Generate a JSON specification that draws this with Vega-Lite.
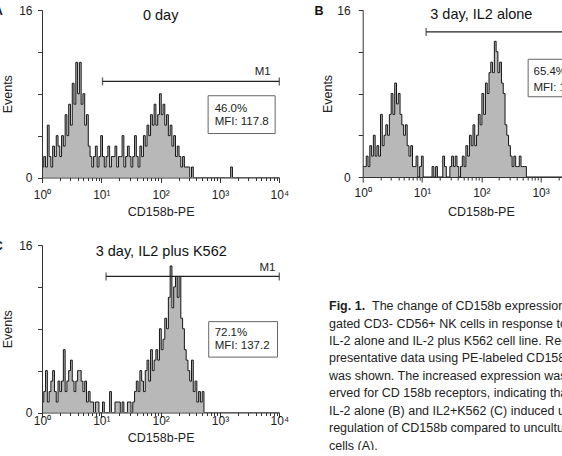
{
"$schema": "https://vega.github.io/schema/vega-lite/v6.json",
"padding": {"left": -7, "top": 4, "right": 0, "bottom": 0},
"datasets": {
"A": [{"x":0,"y":1},{"x":0.03,"y":2},{"x":0.06,"y":1},{"x":0.09,"y":5},{"x":0.12,"y":2},{"x":0.15,"y":1},{"x":0.18,"y":3},{"x":0.21,"y":2},{"x":0.24,"y":4},{"x":0.27,"y":3},{"x":0.30,"y":2},{"x":0.33,"y":4},{"x":0.36,"y":3},{"x":0.39,"y":6},{"x":0.42,"y":4},{"x":0.45,"y":7},{"x":0.48,"y":5},{"x":0.51,"y":9},{"x":0.54,"y":7},{"x":0.57,"y":11},{"x":0.60,"y":8},{"x":0.63,"y":11},{"x":0.66,"y":7},{"x":0.69,"y":8},{"x":0.72,"y":5},{"x":0.75,"y":6},{"x":0.78,"y":3},{"x":0.81,"y":2},{"x":0.84,"y":1},{"x":0.87,"y":2},{"x":0.90,"y":3},{"x":0.93,"y":1},{"x":0.96,"y":2},{"x":0.99,"y":4},{"x":1.02,"y":2},{"x":1.05,"y":1},{"x":1.08,"y":2},{"x":1.11,"y":3},{"x":1.14,"y":1},{"x":1.17,"y":2},{"x":1.20,"y":2},{"x":1.23,"y":3},{"x":1.26,"y":1},{"x":1.29,"y":2},{"x":1.32,"y":2},{"x":1.35,"y":4},{"x":1.38,"y":1},{"x":1.41,"y":2},{"x":1.44,"y":3},{"x":1.47,"y":2},{"x":1.50,"y":1},{"x":1.53,"y":2},{"x":1.56,"y":4},{"x":1.59,"y":2},{"x":1.62,"y":1},{"x":1.65,"y":3},{"x":1.68,"y":2},{"x":1.71,"y":4},{"x":1.74,"y":3},{"x":1.77,"y":5},{"x":1.80,"y":4},{"x":1.83,"y":6},{"x":1.86,"y":5},{"x":1.89,"y":7},{"x":1.92,"y":5},{"x":1.95,"y":6},{"x":1.98,"y":8},{"x":2.01,"y":6},{"x":2.04,"y":7},{"x":2.07,"y":5},{"x":2.10,"y":6},{"x":2.13,"y":4},{"x":2.16,"y":5},{"x":2.19,"y":3},{"x":2.22,"y":4},{"x":2.25,"y":2},{"x":2.28,"y":3},{"x":2.31,"y":2},{"x":2.34,"y":1},{"x":2.37,"y":2},{"x":2.40,"y":1},{"x":2.43,"y":1},{"x":2.46,"y":1},{"x":2.49,"y":0},{"x":2.52,"y":1},{"x":2.55,"y":0},{"x":3.15,"y":0},{"x":3.18,"y":1},{"x":3.21,"y":0},{"x":4,"y":0}],
"B": [{"x":0,"y":1},{"x":0.03,"y":1},{"x":0.06,"y":2},{"x":0.09,"y":1},{"x":0.12,"y":3},{"x":0.15,"y":2},{"x":0.18,"y":4},{"x":0.21,"y":2},{"x":0.24,"y":3},{"x":0.27,"y":2},{"x":0.30,"y":6},{"x":0.33,"y":3},{"x":0.36,"y":4},{"x":0.39,"y":5},{"x":0.42,"y":4},{"x":0.45,"y":6},{"x":0.48,"y":8},{"x":0.51,"y":6},{"x":0.54,"y":9},{"x":0.57,"y":7},{"x":0.60,"y":8},{"x":0.63,"y":6},{"x":0.66,"y":5},{"x":0.69,"y":4},{"x":0.72,"y":5},{"x":0.75,"y":3},{"x":0.78,"y":2},{"x":0.81,"y":3},{"x":0.84,"y":1},{"x":0.87,"y":1},{"x":0.90,"y":2},{"x":0.93,"y":0},{"x":0.96,"y":1},{"x":0.99,"y":2},{"x":1.02,"y":0},{"x":1.17,"y":1},{"x":1.20,"y":0},{"x":1.23,"y":1},{"x":1.26,"y":0},{"x":1.35,"y":2},{"x":1.38,"y":1},{"x":1.41,"y":0},{"x":1.47,"y":1},{"x":1.50,"y":2},{"x":1.53,"y":1},{"x":1.56,"y":2},{"x":1.59,"y":1},{"x":1.62,"y":0},{"x":1.65,"y":1},{"x":1.68,"y":2},{"x":1.71,"y":1},{"x":1.74,"y":3},{"x":1.77,"y":2},{"x":1.80,"y":4},{"x":1.83,"y":3},{"x":1.86,"y":5},{"x":1.89,"y":3},{"x":1.92,"y":4},{"x":1.95,"y":6},{"x":1.98,"y":5},{"x":2.01,"y":8},{"x":2.04,"y":6},{"x":2.07,"y":9},{"x":2.10,"y":8},{"x":2.13,"y":10},{"x":2.16,"y":11},{"x":2.19,"y":10},{"x":2.22,"y":13},{"x":2.25,"y":12},{"x":2.28,"y":10},{"x":2.31,"y":11},{"x":2.34,"y":9},{"x":2.37,"y":8},{"x":2.40,"y":5},{"x":2.43,"y":4},{"x":2.46,"y":3},{"x":2.49,"y":2},{"x":2.52,"y":1},{"x":2.55,"y":2},{"x":2.58,"y":1},{"x":2.61,"y":1},{"x":2.64,"y":2},{"x":2.67,"y":1},{"x":2.70,"y":1},{"x":2.73,"y":1},{"x":2.76,"y":0},{"x":3.39,"y":0}],
"C": [{"x":0,"y":1},{"x":0.03,"y":2},{"x":0.06,"y":4},{"x":0.09,"y":1},{"x":0.12,"y":2},{"x":0.15,"y":3},{"x":0.18,"y":4},{"x":0.21,"y":2},{"x":0.24,"y":1},{"x":0.27,"y":3},{"x":0.30,"y":2},{"x":0.33,"y":3},{"x":0.36,"y":6},{"x":0.39,"y":2},{"x":0.42,"y":3},{"x":0.45,"y":4},{"x":0.48,"y":5},{"x":0.51,"y":3},{"x":0.54,"y":2},{"x":0.57,"y":3},{"x":0.60,"y":4},{"x":0.63,"y":4},{"x":0.66,"y":3},{"x":0.69,"y":2},{"x":0.72,"y":3},{"x":0.75,"y":1},{"x":0.78,"y":2},{"x":0.81,"y":1},{"x":0.84,"y":1},{"x":0.87,"y":0},{"x":0.90,"y":1},{"x":0.93,"y":1},{"x":0.96,"y":0},{"x":1.02,"y":1},{"x":1.05,"y":0},{"x":1.14,"y":2},{"x":1.17,"y":0},{"x":1.23,"y":1},{"x":1.26,"y":1},{"x":1.29,"y":1},{"x":1.32,"y":0},{"x":1.35,"y":1},{"x":1.38,"y":0},{"x":1.44,"y":1},{"x":1.47,"y":1},{"x":1.50,"y":0},{"x":1.53,"y":1},{"x":1.56,"y":2},{"x":1.59,"y":3},{"x":1.62,"y":2},{"x":1.65,"y":4},{"x":1.68,"y":3},{"x":1.71,"y":2},{"x":1.74,"y":4},{"x":1.77,"y":5},{"x":1.80,"y":3},{"x":1.83,"y":6},{"x":1.86,"y":4},{"x":1.89,"y":5},{"x":1.92,"y":6},{"x":1.95,"y":5},{"x":1.98,"y":8},{"x":2.01,"y":6},{"x":2.04,"y":7},{"x":2.07,"y":9},{"x":2.10,"y":8},{"x":2.13,"y":11},{"x":2.16,"y":14},{"x":2.19,"y":10},{"x":2.22,"y":12},{"x":2.25,"y":13},{"x":2.28,"y":11},{"x":2.31,"y":13},{"x":2.34,"y":9},{"x":2.37,"y":8},{"x":2.40,"y":6},{"x":2.43,"y":5},{"x":2.46,"y":4},{"x":2.49,"y":3},{"x":2.52,"y":5},{"x":2.55,"y":2},{"x":2.58,"y":3},{"x":2.61,"y":1},{"x":2.64,"y":2},{"x":2.67,"y":1},{"x":2.70,"y":2},{"x":2.73,"y":0},{"x":4,"y":0}],
"gates": [{"p":"A","x1":1.02,"x2":4,"y":9.18},{"p":"B","x1":1.07,"x2":4,"y":13.9},{"p":"C","x1":1.08,"x2":4,"y":13.0}],
"boxes": [{"p":"A","x1":2.80,"x2":3.93,"y1":7.81,"y2":4.2},{"p":"B","x1":2.79,"x2":4,"y1":11.28,"y2":7.69},{"p":"C","x1":2.81,"x2":3.97,"y1":8.68,"y2":5.29}],
"notes": [
{"p":"A","k":"title","x":2,"y":15.46,"t":"0 day"},
{"p":"A","k":"letter","x":-0.66,"y":15.93,"t":"A"},
{"p":"A","k":"gate","x":3.72,"y":10.05,"t":"M1"},
{"p":"A","k":"box","x":2.91,"y":6.54,"t":"46.0%"},
{"p":"A","k":"box","x":2.91,"y":5.26,"t":"MFI: 117.8"},
{"p":"B","k":"title","x":2,"y":15.5,"t":"3 day, IL2 alone"},
{"p":"B","k":"letter","x":-0.66,"y":15.93,"t":"B"},
{"p":"B","k":"gate","x":3.72,"y":14.75,"t":"M1"},
{"p":"B","k":"box","x":2.88,"y":10.1,"t":"65.4%"},
{"p":"B","k":"box","x":2.88,"y":8.5,"t":"MFI: 1"},
{"p":"C","k":"title","x":2.01,"y":15.36,"t":"3 day, IL2 plus K562"},
{"p":"C","k":"letter","x":-0.66,"y":15.93,"t":"C"},
{"p":"C","k":"gate","x":3.8,"y":13.84,"t":"M1"},
{"p":"C","k":"box","x":2.91,"y":7.58,"t":"72.1%"},
{"p":"C","k":"box","x":2.91,"y":6.36,"t":"MFI: 137.2"}],
"cap": [
{"line":1,"s":"b","t":"Fig. 1."},
{"line":1,"s":"i","t":"The change of CD158b expression on"},
{"line":2,"s":"n","t":"gated CD3- CD56+ NK cells in response to"},
{"line":3,"s":"n","t":"IL-2 alone and IL-2 plus K562 cell line. Re-"},
{"line":4,"s":"n","t":"presentative data using PE-labeled CD158b"},
{"line":5,"s":"n","t":"was shown. The increased expression was obs-"},
{"line":6,"s":"n","t":"erved for CD 158b receptors, indicating that"},
{"line":7,"s":"n","t":"IL-2 alone (B) and IL2+K562 (C) induced up-"},
{"line":8,"s":"n","t":"regulation of CD158b compared to uncultured"},
{"line":9,"s":"n","t":"cells (A)."}]
},
"spacing": 20,
"vconcat": [
{"hconcat": [
{"width": 237.3, "height": 167.5,
 "resolve": {"axis": {"x": "independent"}},
 "layer": [
  {"data": {"name": "A"}, "mark": {"type": "area", "interpolate": "step-after", "color": "#9a9a9a", "line": {"color": "#151515", "strokeWidth": 1}, "clip": true},
   "encoding": {
    "x": {"field": "x", "type": "quantitative", "scale": {"domain": [0, 4], "nice": false, "zero": false},
     "axis": {"orient": "bottom", "values": [0,1,2,3,4], "labelExpr": "'10' + ['⁰','¹','²','³','⁴'][datum.value]", "tickSize": 5, "labelPadding": 7.3, "labelFlush": false, "labelOverlap": false, "title": "CD158b-PE", "titlePadding": 4.9, "grid": false, "zindex": 1}},
    "y": {"field": "y", "type": "quantitative", "scale": {"domain": [0, 16], "nice": false},
     "axis": {"orient": "left", "values": [0,4,8,12,16], "labelExpr": "datum.value === 0 ? '0' : datum.value === 16 ? '16' : ''", "tickSize": 4.5, "labelPadding": 5.5, "labelFlush": false, "title": "Events", "titlePadding": 4.1, "grid": false, "zindex": 1}}}},
  {"data": {"name": "gates"}, "transform": [{"filter": "datum.p === 'A'"}], "mark": {"type": "rule", "color": "#222", "strokeWidth": 1.3},
   "encoding": {"x": {"field": "x1", "type": "quantitative", "axis": {"orient": "bottom", "values": [0.30103,0.47712,0.60206,0.69897,0.77815,0.8451,0.90309,0.95424,1.30103,1.47712,1.60206,1.69897,1.77815,1.8451,1.90309,1.95424,2.30103,2.47712,2.60206,2.69897,2.77815,2.8451,2.90309,2.95424,3.30103,3.47712,3.60206,3.69897,3.77815,3.8451,3.90309,3.95424], "tickSize": 3, "labels": false, "domain": false, "title": null, "grid": false}}, "x2": {"field": "x2"}, "y": {"field": "y", "type": "quantitative"}}},
  {"data": {"name": "gates"}, "transform": [{"filter": "datum.p === 'A'"}], "mark": {"type": "tick", "orient": "vertical", "size": 8, "thickness": 1.3, "color": "#222"},
   "encoding": {"x": {"field": "x1", "type": "quantitative", "axis": null}, "y": {"field": "y", "type": "quantitative"}}},
  {"data": {"name": "gates"}, "transform": [{"filter": "datum.p === 'A'"}], "mark": {"type": "tick", "orient": "vertical", "size": 8, "thickness": 1.3, "color": "#222"},
   "encoding": {"x": {"field": "x2", "type": "quantitative", "axis": null}, "y": {"field": "y", "type": "quantitative"}}},
  {"data": {"name": "boxes"}, "transform": [{"filter": "datum.p === 'A'"}], "mark": {"type": "rect", "fill": "white", "stroke": "#666", "strokeWidth": 1},
   "encoding": {"x": {"field": "x1", "type": "quantitative", "axis": null}, "x2": {"field": "x2"}, "y": {"field": "y1", "type": "quantitative"}, "y2": {"field": "y2"}}},
  {"data": {"name": "notes"}, "transform": [{"filter": "datum.p === 'A' && datum.k === 'box'"}], "mark": {"type": "text", "align": "left", "baseline": "middle", "fontSize": 11.5, "color": "#222"},
   "encoding": {"x": {"field": "x", "type": "quantitative", "axis": null}, "y": {"field": "y", "type": "quantitative"}, "text": {"field": "t"}}},
  {"data": {"name": "notes"}, "transform": [{"filter": "datum.p === 'A' && datum.k === 'gate'"}], "mark": {"type": "text", "align": "center", "baseline": "middle", "fontSize": 11.5, "color": "#222"},
   "encoding": {"x": {"field": "x", "type": "quantitative", "axis": null}, "y": {"field": "y", "type": "quantitative"}, "text": {"field": "t"}}},
  {"data": {"name": "notes"}, "transform": [{"filter": "datum.p === 'A' && datum.k === 'title'"}], "mark": {"type": "text", "align": "center", "baseline": "middle", "fontSize": 14.5, "color": "#111"},
   "encoding": {"x": {"field": "x", "type": "quantitative", "axis": null}, "y": {"field": "y", "type": "quantitative"}, "text": {"field": "t"}}},
  {"data": {"name": "notes"}, "transform": [{"filter": "datum.p === 'A' && datum.k === 'letter'"}], "mark": {"type": "text", "align": "right", "baseline": "middle", "fontSize": 12.5, "fontWeight": "bold", "color": "#111"},
   "encoding": {"x": {"field": "x", "type": "quantitative", "axis": null}, "y": {"field": "y", "type": "quantitative"}, "text": {"field": "t"}}}
 ]},
{"width": 201.3, "height": 167,
 "resolve": {"axis": {"x": "independent"}},
 "layer": [
  {"data": {"name": "B"}, "mark": {"type": "area", "interpolate": "step-after", "color": "#9a9a9a", "line": {"color": "#151515", "strokeWidth": 1}, "clip": true},
   "encoding": {
    "x": {"field": "x", "type": "quantitative", "scale": {"domain": [0, 3.3946], "nice": false, "zero": false},
     "axis": {"orient": "bottom", "values": [0,1,2,3], "labelExpr": "'10' + ['⁰','¹','²','³','⁴'][datum.value]", "tickSize": 5, "labelPadding": 5, "labelFlush": false, "labelOverlap": false, "title": "CD158b-PE", "titlePadding": 7.5, "titleX": 118.2, "grid": false, "zindex": 1}},
    "y": {"field": "y", "type": "quantitative", "scale": {"domain": [0, 16], "nice": false},
     "axis": {"orient": "left", "values": [0,4,8,12,16], "labelExpr": "datum.value === 0 ? '0' : datum.value === 16 ? '16' : ''", "tickSize": 4.5, "labelPadding": 8, "labelFlush": false, "title": "Events", "titlePadding": 1.9, "grid": false, "zindex": 1}}}},
  {"data": {"name": "gates"}, "transform": [{"filter": "datum.p === 'B'"}], "mark": {"type": "rule", "color": "#222", "strokeWidth": 1.3, "clip": true},
   "encoding": {"x": {"field": "x1", "type": "quantitative", "axis": {"orient": "bottom", "values": [0.30103,0.47712,0.60206,0.69897,0.77815,0.8451,0.90309,0.95424,1.30103,1.47712,1.60206,1.69897,1.77815,1.8451,1.90309,1.95424,2.30103,2.47712,2.60206,2.69897,2.77815,2.8451,2.90309,2.95424,3.30103], "tickSize": 3, "labels": false, "domain": false, "title": null, "grid": false}}, "x2": {"field": "x2"}, "y": {"field": "y", "type": "quantitative"}}},
  {"data": {"name": "gates"}, "transform": [{"filter": "datum.p === 'B'"}], "mark": {"type": "tick", "orient": "vertical", "size": 8, "thickness": 1.3, "color": "#222", "clip": true},
   "encoding": {"x": {"field": "x1", "type": "quantitative", "axis": null}, "y": {"field": "y", "type": "quantitative"}}},
  {"data": {"name": "boxes"}, "transform": [{"filter": "datum.p === 'B'"}], "mark": {"type": "rect", "fill": "white", "stroke": "#666", "strokeWidth": 1, "clip": true},
   "encoding": {"x": {"field": "x1", "type": "quantitative", "axis": null}, "x2": {"field": "x2"}, "y": {"field": "y1", "type": "quantitative"}, "y2": {"field": "y2"}}},
  {"data": {"name": "notes"}, "transform": [{"filter": "datum.p === 'B' && datum.k === 'box'"}], "mark": {"type": "text", "align": "left", "baseline": "middle", "fontSize": 11.5, "color": "#222", "clip": true},
   "encoding": {"x": {"field": "x", "type": "quantitative", "axis": null}, "y": {"field": "y", "type": "quantitative"}, "text": {"field": "t"}}},
  {"data": {"name": "notes"}, "transform": [{"filter": "datum.p === 'B' && datum.k === 'gate'"}], "mark": {"type": "text", "align": "center", "baseline": "middle", "fontSize": 11.5, "color": "#222", "clip": true},
   "encoding": {"x": {"field": "x", "type": "quantitative", "axis": null}, "y": {"field": "y", "type": "quantitative"}, "text": {"field": "t"}}},
  {"data": {"name": "notes"}, "transform": [{"filter": "datum.p === 'B' && datum.k === 'title'"}], "mark": {"type": "text", "align": "center", "baseline": "middle", "fontSize": 14.5, "color": "#111"},
   "encoding": {"x": {"field": "x", "type": "quantitative", "axis": null}, "y": {"field": "y", "type": "quantitative"}, "text": {"field": "t"}}},
  {"data": {"name": "notes"}, "transform": [{"filter": "datum.p === 'B' && datum.k === 'letter'"}], "mark": {"type": "text", "align": "right", "baseline": "middle", "fontSize": 12.5, "fontWeight": "bold", "color": "#111"},
   "encoding": {"x": {"field": "x", "type": "quantitative", "axis": null}, "y": {"field": "y", "type": "quantitative"}, "text": {"field": "t"}}}
 ]}
], "spacing": 82.7, "bounds": "flush"},
{"hconcat": [
{"width": 237.3, "height": 167.5,
 "resolve": {"axis": {"x": "independent"}},
 "layer": [
  {"data": {"name": "C"}, "mark": {"type": "area", "interpolate": "step-after", "color": "#9a9a9a", "line": {"color": "#151515", "strokeWidth": 1}, "clip": true},
   "encoding": {
    "x": {"field": "x", "type": "quantitative", "scale": {"domain": [0, 4], "nice": false, "zero": false},
     "axis": {"orient": "bottom", "values": [0,1,2,3,4], "labelExpr": "'10' + ['⁰','¹','²','³','⁴'][datum.value]", "tickSize": 5, "labelPadding": -1.9, "labelFlush": false, "labelOverlap": false, "title": "CD158b-PE", "titlePadding": 4.8, "grid": false, "zindex": 1}},
    "y": {"field": "y", "type": "quantitative", "scale": {"domain": [0, 16], "nice": false},
     "axis": {"orient": "left", "values": [0,4,8,12,16], "labelExpr": "datum.value === 0 ? '0' : datum.value === 16 ? '16' : ''", "tickSize": 4.5, "labelPadding": 5.5, "labelFlush": false, "title": "Events", "titlePadding": 4.1, "grid": false, "zindex": 1}}}},
  {"data": {"name": "gates"}, "transform": [{"filter": "datum.p === 'C'"}], "mark": {"type": "rule", "color": "#222", "strokeWidth": 1.3},
   "encoding": {"x": {"field": "x1", "type": "quantitative", "axis": {"orient": "bottom", "values": [0.30103,0.47712,0.60206,0.69897,0.77815,0.8451,0.90309,0.95424,1.30103,1.47712,1.60206,1.69897,1.77815,1.8451,1.90309,1.95424,2.30103,2.47712,2.60206,2.69897,2.77815,2.8451,2.90309,2.95424,3.30103,3.47712,3.60206,3.69897,3.77815,3.8451,3.90309,3.95424], "tickSize": 3, "labels": false, "domain": false, "title": null, "grid": false}}, "x2": {"field": "x2"}, "y": {"field": "y", "type": "quantitative"}}},
  {"data": {"name": "gates"}, "transform": [{"filter": "datum.p === 'C'"}], "mark": {"type": "tick", "orient": "vertical", "size": 8, "thickness": 1.3, "color": "#222"},
   "encoding": {"x": {"field": "x1", "type": "quantitative", "axis": null}, "y": {"field": "y", "type": "quantitative"}}},
  {"data": {"name": "gates"}, "transform": [{"filter": "datum.p === 'C'"}], "mark": {"type": "tick", "orient": "vertical", "size": 8, "thickness": 1.3, "color": "#222"},
   "encoding": {"x": {"field": "x2", "type": "quantitative", "axis": null}, "y": {"field": "y", "type": "quantitative"}}},
  {"data": {"name": "boxes"}, "transform": [{"filter": "datum.p === 'C'"}], "mark": {"type": "rect", "fill": "white", "stroke": "#666", "strokeWidth": 1},
   "encoding": {"x": {"field": "x1", "type": "quantitative", "axis": null}, "x2": {"field": "x2"}, "y": {"field": "y1", "type": "quantitative"}, "y2": {"field": "y2"}}},
  {"data": {"name": "notes"}, "transform": [{"filter": "datum.p === 'C' && datum.k === 'box'"}], "mark": {"type": "text", "align": "left", "baseline": "middle", "fontSize": 11.5, "color": "#222"},
   "encoding": {"x": {"field": "x", "type": "quantitative", "axis": null}, "y": {"field": "y", "type": "quantitative"}, "text": {"field": "t"}}},
  {"data": {"name": "notes"}, "transform": [{"filter": "datum.p === 'C' && datum.k === 'gate'"}], "mark": {"type": "text", "align": "center", "baseline": "middle", "fontSize": 11.5, "color": "#222"},
   "encoding": {"x": {"field": "x", "type": "quantitative", "axis": null}, "y": {"field": "y", "type": "quantitative"}, "text": {"field": "t"}}},
  {"data": {"name": "notes"}, "transform": [{"filter": "datum.p === 'C' && datum.k === 'title'"}], "mark": {"type": "text", "align": "center", "baseline": "middle", "fontSize": 14.5, "color": "#111"},
   "encoding": {"x": {"field": "x", "type": "quantitative", "axis": null}, "y": {"field": "y", "type": "quantitative"}, "text": {"field": "t"}}},
  {"data": {"name": "notes"}, "transform": [{"filter": "datum.p === 'C' && datum.k === 'letter'"}], "mark": {"type": "text", "align": "right", "baseline": "middle", "fontSize": 12.5, "fontWeight": "bold", "color": "#111"},
   "encoding": {"x": {"field": "x", "type": "quantitative", "axis": null}, "y": {"field": "y", "type": "quantitative"}, "text": {"field": "t"}}}
 ]},
{"width": 235, "height": 205,
 "data": {"name": "cap"},
 "encoding": {
  "x": {"value": 0},
  "y": {"field": "line", "type": "quantitative", "scale": {"domain": [-2.486, 9.229], "reverse": true, "nice": false, "zero": false}, "axis": null},
  "text": {"field": "t"}},
 "layer": [
  {"transform": [{"filter": "datum.s === 'b'"}], "mark": {"type": "text", "align": "left", "baseline": "middle", "fontSize": 12.5, "fontWeight": "bold", "color": "#222", "clip": true}},
  {"transform": [{"filter": "datum.s === 'i'"}], "mark": {"type": "text", "align": "left", "baseline": "middle", "fontSize": 12.5, "dx": 43, "color": "#222", "clip": true}},
  {"transform": [{"filter": "datum.s === 'n'"}], "mark": {"type": "text", "align": "left", "baseline": "middle", "fontSize": 12.5, "color": "#222", "clip": true}}
 ]}
], "spacing": 49, "bounds": "flush"}
],
"config": {
 "view": {"stroke": null},
 "font": "Liberation Sans",
 "axis": {"domainColor": "#333", "tickColor": "#333", "labelColor": "#222", "titleColor": "#222", "labelFont": "Liberation Sans", "titleFont": "Liberation Sans", "labelFontSize": 12, "titleFontSize": 12.5, "titleFontWeight": "normal", "domainWidth": 1, "tickWidth": 1}
}
}
